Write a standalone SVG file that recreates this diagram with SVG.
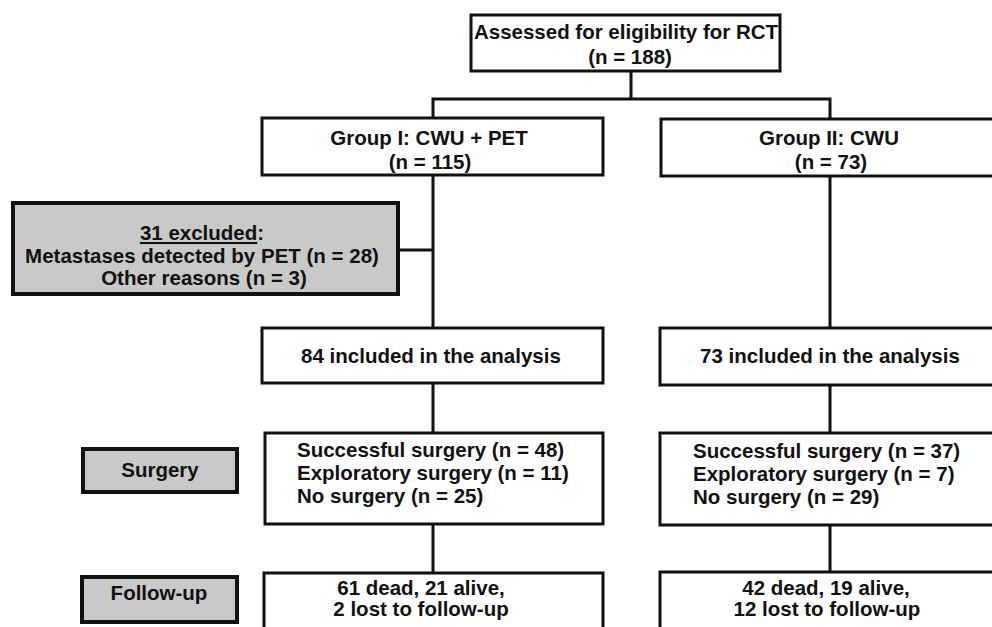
<svg xmlns="http://www.w3.org/2000/svg" width="992" height="627" viewBox="0 0 992 627">
<style>
.box{fill:#fff;stroke:#111;stroke-width:3}
.gbox{fill:#c9c9c9;stroke:#111;stroke-width:4}
.ln{fill:none;stroke:#111;stroke-width:3}
text{font-family:"Liberation Sans",Arial,sans-serif;font-weight:bold;font-size:20.5px;fill:#111}
.c{text-anchor:middle}
</style>
<rect width="992" height="627" fill="#fff"/>
<g id="connectors">
<path class="ln" d="M631 71V99M433 118V99H830V119"/>
<path class="ln" d="M433 175V328M398 250H433"/>
<path class="ln" d="M830 176V328"/>
<path class="ln" d="M433 383V433M830 385V433"/>
<path class="ln" d="M433 524V573M830 525V572"/>
</g>
<g id="assessed">
<rect class="box" x="471" y="15" width="309" height="56"/>
<text class="c" x="626" y="39">Assessed for eligibility for RCT</text>
<text class="c" x="630" y="64">(n = 188)</text>
</g>
<g id="group1">
<rect class="box" x="262" y="118" width="341" height="57"/>
<text class="c" x="429" y="145">Group I: CWU + PET</text>
<text class="c" x="430" y="169">(n = 115)</text>
</g>
<g id="group2">
<rect class="box" x="661" y="119" width="340" height="57"/>
<text class="c" x="829" y="145">Group II: CWU</text>
<text class="c" x="831" y="169">(n = 73)</text>
</g>
<g id="excluded">
<rect class="gbox" x="13" y="203" width="385" height="91"/>
<text class="c" x="202" y="240"><tspan text-decoration="underline">31 excluded</tspan>:</text>
<text class="c" x="202" y="263">Metastases detected by PET (n = 28)</text>
<text class="c" x="204" y="285">Other reasons (n = 3)</text>
</g>
<g id="included1">
<rect class="box" x="262" y="328" width="341" height="55"/>
<text class="c" x="431" y="363">84 included in the analysis</text>
</g>
<g id="included2">
<rect class="box" x="660" y="328" width="341" height="57"/>
<text class="c" x="830" y="363">73 included in the analysis</text>
</g>
<g id="surgery-label">
<rect class="gbox" x="83" y="449" width="154" height="43"/>
<text class="c" x="160" y="477">Surgery</text>
</g>
<g id="surgery1">
<rect class="box" x="265" y="433" width="338" height="91"/>
<text x="297" y="457">Successful surgery (n = 48)</text>
<text x="297" y="480">Exploratory surgery (n = 11)</text>
<text x="297" y="503">No surgery (n = 25)</text>
</g>
<g id="surgery2">
<rect class="box" x="660" y="433" width="341" height="92"/>
<text x="693" y="458">Successful surgery (n = 37)</text>
<text x="693" y="481">Exploratory surgery (n = 7)</text>
<text x="693" y="504">No surgery (n = 29)</text>
</g>
<g id="followup-label">
<rect class="gbox" x="82" y="577" width="155" height="45"/>
<text class="c" x="159" y="600">Follow-up</text>
</g>
<g id="followup1">
<rect class="box" x="264" y="573" width="339" height="70"/>
<text class="c" x="421" y="595">61 dead, 21 alive,</text>
<text class="c" x="421" y="616">2 lost to follow-up</text>
</g>
<g id="followup2">
<rect class="box" x="660" y="572" width="341" height="70"/>
<text class="c" x="826" y="595">42 dead, 19 alive,</text>
<text class="c" x="827" y="616">12 lost to follow-up</text>
</g>
</svg>
